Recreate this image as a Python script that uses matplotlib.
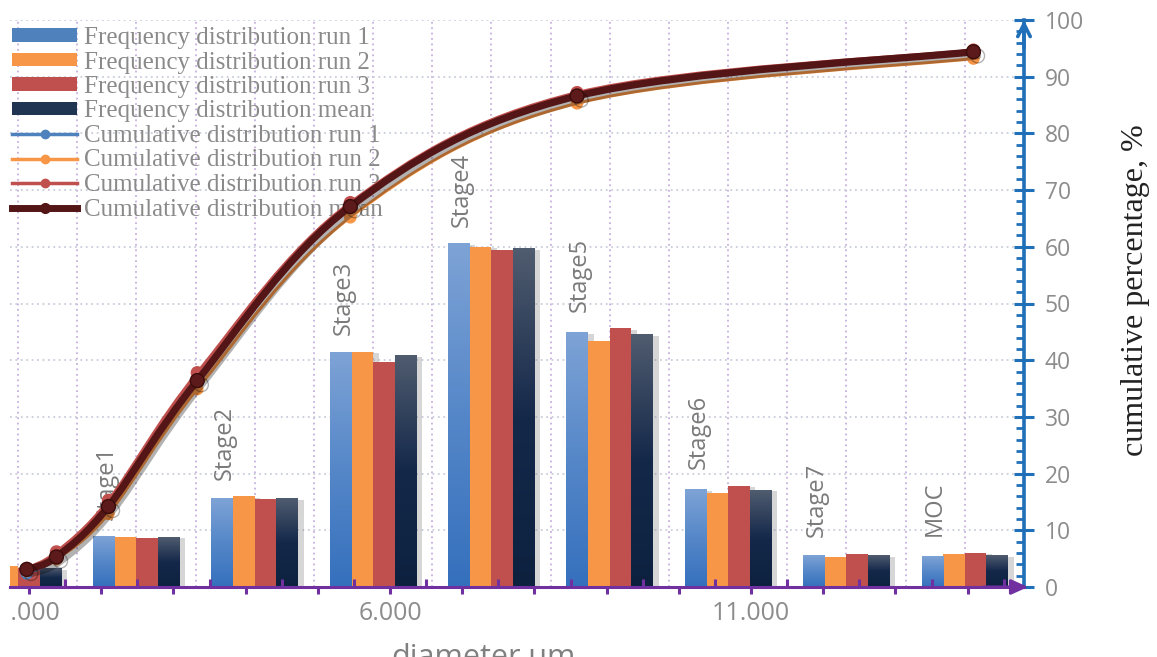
import numpy as np
import matplotlib
matplotlib.use('Agg')
from matplotlib import pyplot as plt
from matplotlib import patheffects as pe
from matplotlib.path import Path
from matplotlib.patches import PathPatch, Patch
from matplotlib.lines import Line2D
from matplotlib.colors import LinearSegmentedColormap
from matplotlib.ticker import MultipleLocator, FixedLocator, FuncFormatter
from matplotlib.transforms import Bbox, TransformedBbox

# --- data ---
stages = ['', 'Stage1', 'Stage2', 'Stage3', 'Stage4', 'Stage5', 'Stage6', 'Stage7', 'MOC']
freq_run1 = [3.5, 8.9, 15.6, 41.3, 60.5, 44.9, 17.2, 5.6, 5.3]
freq_run2 = [3.7, 8.9, 16.0, 41.5, 60.0, 43.4, 16.5, 5.3, 5.8]
freq_run3 = [3.4, 8.6, 15.5, 39.7, 59.4, 45.6, 17.8, 5.8, 6.0]
freq_mean = [3.3, 8.8, 15.6, 40.8, 59.7, 44.6, 17.1, 5.5, 5.5]

diameter = [0.97, 1.38, 2.10, 3.33, 5.45, 8.59, 14.08]
cum_run1 = [2.4, 5.0, 14.0, 36.6, 67.4, 86.9, 94.6]
cum_run2 = [2.8, 4.9, 12.9, 34.9, 65.2, 85.3, 93.2]
cum_run3 = [3.3, 6.2, 15.3, 37.8, 67.8, 87.2, 94.7]
cum_mean = [3.1, 5.3, 14.2, 36.4, 67.1, 86.6, 94.4]

labels = ['Frequency distribution run 1', 'Frequency distribution run 2',
          'Frequency distribution run 3', 'Frequency distribution mean',
          'Cumulative distribution run 1', 'Cumulative distribution run 2',
          'Cumulative distribution run 3', 'Cumulative distribution mean']

BLUE = '#4f81bd'
ORANGE = '#f79646'
RED = '#c0504d'
NAVY = '#1f3552'
MAROON = '#531515'
PURPLE = '#7030a0'
AXBLUE = '#1f70b8'
GRAY = '#8c8c8c'

plt.rcParams['font.family'] = ['Open Sans', 'DejaVu Sans']


def smooth_path(xs, ys):
    # catmull-rom style bezier through the points (like excel "smoothed line")
    pts = np.column_stack([xs, ys])
    ext = np.vstack([pts[0], pts, pts[-1]])
    verts = [pts[0]]
    codes = [Path.MOVETO]
    for i in range(len(pts) - 1):
        p0, p1, p2, p3 = ext[i], ext[i + 1], ext[i + 2], ext[i + 3]
        verts += [p1 + (p2 - p0) / 6, p2 - (p3 - p1) / 6, p2]
        codes += [Path.CURVE4] * 3
    return Path(verts, codes)


fig = plt.figure(figsize=(11.57, 6.57), dpi=100)
ax = fig.add_axes([10 / 1157, 1 - 587 / 657, 1014 / 1157, 567 / 657])
ax2 = ax.twiny()

# --- bars (category axis) ---
w = 0.183
xc = np.arange(len(stages))
grad = np.linspace(0, 1, 256).reshape(-1, 1)
cm_blue = LinearSegmentedColormap.from_list('bl', ['#3570bd', '#5587c8', '#7ea3d6'])
cm_navy = LinearSegmentedColormap.from_list('nv', ['#0d213f', '#14284a', '#505c6f'])
bar_shadow = [pe.SimplePatchShadow(offset=(4, -1), shadow_rgbFace='#7a7a7a', alpha=0.3), pe.Normal()]

series = [(freq_run1, BLUE, cm_blue), (freq_run2, ORANGE, None),
          (freq_run3, RED, None), (freq_mean, NAVY, cm_navy)]
for i, (vals, col, cmap) in enumerate(series):
    bars = ax.bar(xc + (i - 1.5) * w, vals, w, color=col, zorder=3, path_effects=bar_shadow)
    if cmap is not None:
        for b in bars:
            ax.imshow(grad, extent=[b.get_x(), b.get_x() + b.get_width(), 0, b.get_height()],
                      cmap=cmap, origin='lower', aspect='auto', zorder=3.1)

for k, lab in enumerate(stages):
    if not lab:
        continue
    top = max(freq_run1[k], freq_run2[k], freq_run3[k], freq_mean[k])
    ax.annotate(lab, (k - 0.25, top), xytext=(0, 12), textcoords='offset points',
                rotation=90, ha='center', va='bottom', color='#7a7a7a', fontsize=17, zorder=4)

ax.set_xlim(-0.0676, 8.4966)
ax.set_ylim(0, 100)
ax.set_xticks(np.arange(0, 8.6, 0.5))
ax.tick_params(axis='x', length=0, labelbottom=False, labeltop=False)
ax.grid(True, axis='x', color='#c7b0df', ls=(0, (1, 2)), lw=1.3)
ax.grid(True, axis='y', color='#c9cedb', ls=(0, (1, 2)), lw=1.3)
ax.set_axisbelow(True)

# right percentage axis
ax.yaxis.tick_right()
ax.yaxis.set_major_locator(MultipleLocator(10))
ax.yaxis.set_minor_locator(MultipleLocator(2))
ax.tick_params(axis='y', which='major', direction='inout', length=14, width=2.2,
               color=AXBLUE, labelcolor=GRAY, labelsize=16.5, pad=8)
ax.tick_params(axis='y', which='minor', direction='in', length=6, width=2, color=AXBLUE)
for s in ['left', 'top', 'bottom']:
    ax.spines[s].set_visible(False)
ax.spines['right'].set_color(AXBLUE)
ax.spines['right'].set_linewidth(2.6)
ax.annotate('', xy=(1, 1), xytext=(1, 0.95), xycoords='axes fraction',
            arrowprops=dict(arrowstyle='->,head_length=0.9,head_width=0.45', color=AXBLUE,
                            lw=2.6, shrinkA=0, shrinkB=0), annotation_clip=False)

# --- cumulative curves (diameter axis) ---
cum_series = [(cum_run1, BLUE, 2.2, 8, BLUE, BLUE),
              (cum_run2, ORANGE, 2.2, 8, ORANGE, ORANGE),
              (cum_run3, RED, 2.2, 8.5, RED, RED),
              (cum_mean, MAROON, 5.2, 10, '#5c1a1a', '#3a0c0c')]
line_shadow = [pe.SimpleLineShadow(offset=(3, -3), shadow_color='k', alpha=0.3), pe.Normal()]
for j, (vals, col, lw, ms, mfc, mec) in enumerate(cum_series):
    z = 5 + j * 0.2
    fx = line_shadow if j == 3 else [pe.Normal()]
    ax2.add_patch(PathPatch(smooth_path(diameter, vals), fill=False, ec=col, lw=lw,
                            capstyle='round', joinstyle='round', zorder=z, path_effects=fx))
    ax2.plot(diameter, vals, 'o', ms=ms, mfc=mfc, mec=mec, mew=1, zorder=z + 0.1,
             path_effects=fx)

ax2.set_xlim(0.737, 14.78)
ax2.set_ylim(0, 100)
ax2.xaxis.set_ticks_position('bottom')
ax2.xaxis.set_major_locator(MultipleLocator(1))
ax2.xaxis.set_major_formatter(FuncFormatter(lambda v, p: f'{v:.3f}' if round(v) % 5 == 1 else ''))
ax2.xaxis.set_minor_locator(FixedLocator(np.arange(0.5, 15, 1)))
ax2.tick_params(axis='x', which='major', direction='out', length=5, width=2.2,
                color=PURPLE, labelcolor=GRAY, labelsize=18, pad=5)
ax2.tick_params(axis='x', which='minor', direction='in', length=6, width=2.2, color=PURPLE)
for s in ['left', 'top', 'right']:
    ax2.spines[s].set_visible(False)
ax2.spines['bottom'].set_color(PURPLE)
ax2.spines['bottom'].set_linewidth(2.2)
ax2.annotate('', xy=(1.004, 0), xytext=(0.96, 0), xycoords='axes fraction',
             arrowprops=dict(arrowstyle='-|>,head_length=1.0,head_width=0.45', color=PURPLE,
                             lw=2.2, shrinkA=0, shrinkB=0), annotation_clip=False)

# legend
handles = [Patch(fc=BLUE), Patch(fc=ORANGE), Patch(fc=RED), Patch(fc=NAVY),
           Line2D([], [], color=BLUE, lw=2.5, marker='o', ms=6),
           Line2D([], [], color=ORANGE, lw=2.5, marker='o', ms=6),
           Line2D([], [], color=RED, lw=2.5, marker='o', ms=6),
           Line2D([], [], color=MAROON, lw=5, marker='o', ms=7)]
leg = ax2.legend(handles, labels, loc='upper left', bbox_to_anchor=(12 / 1157, 1 - 27 / 657),
                 bbox_transform=fig.transFigure, frameon=False,
                 prop=dict(family='Liberation Serif', size=18), labelcolor='#8a8a8a',
                 handlelength=2.6, handleheight=0.45, handletextpad=0.3,
                 labelspacing=0.1, borderpad=0, borderaxespad=0)
leg.set_zorder(1)

fig.text(1135 / 1157, 1 - 290 / 657, 'cumulative percentage, %', rotation=90,
         ha='center', va='center', family='Liberation Serif', size=23, color='#222222')
fig.text(483 / 1157, -0.013, 'diameter,um', ha='center', va='baseline', size=22, color='#808080')

# the original chart is cropped a little left of the plot area; clip tick labels there too
fig.canvas.draw()
crop = TransformedBbox(Bbox([[9 / 1157, 0], [1, 1]]), fig.transFigure)
for t in ax2.xaxis.get_major_ticks():
    t.label1.set_clip_box(crop)
    t.label1.set_clip_on(True)

fig.savefig('out.png', dpi=100)
